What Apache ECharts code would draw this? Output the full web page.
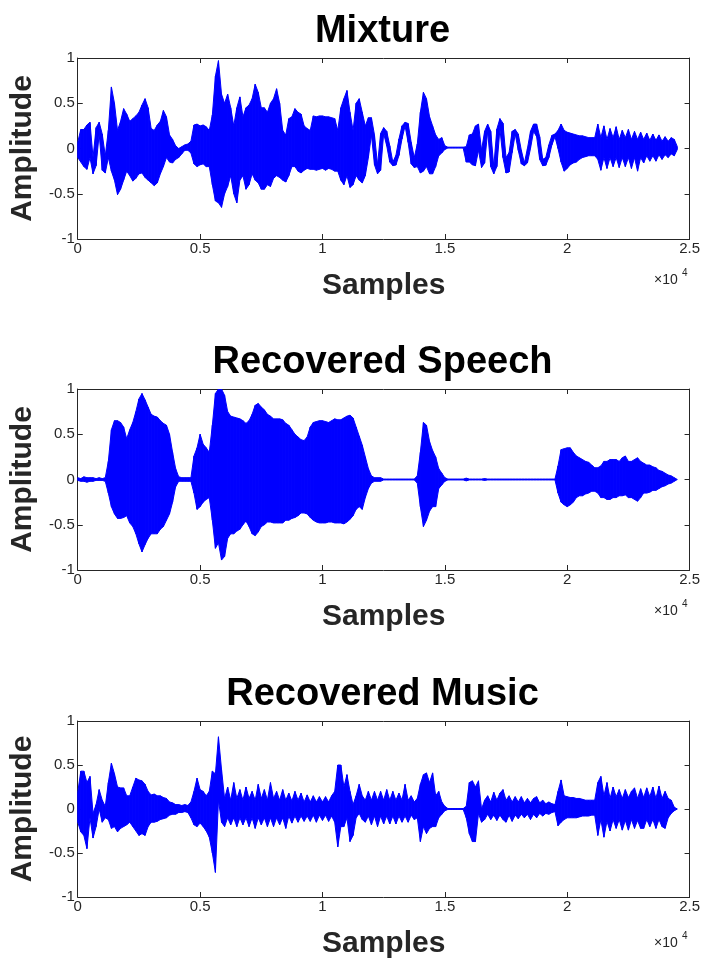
<!DOCTYPE html>
<html>
  <head>
    <meta charset="utf-8" />
    <title>Mixture / Recovered Speech / Recovered Music</title>
    <script src="https://cdn.jsdelivr.net/npm/echarts@6/dist/echarts.min.js"></script>
    <style>
      html, body { margin: 0; padding: 0; background: #fff; }
    </style>
  </head>
  <body>
    <div id="main" style="width: 703px;height:960px;"></div>
    <script type="text/javascript">
      var step = 125;
      var titles = ['Mixture', 'Recovered Speech', 'Recovered Music'];

      var mixHi = [
        0.07, 0.21, 0.21, 0.26, 0.29, -0.1, 0.23, 0.29, 0.16, -0.08,
        0.2, 0.68, 0.5, 0.2, 0.3, 0.44, 0.38, 0.3, 0.33, 0.36,
        0.4, 0.48, 0.55, 0.45, 0.22, 0.2, 0.26, 0.3, 0.42, 0.35,
        0.15, 0.1, 0.03, 0.0, 0.02, 0.04, 0.05, 0.08, 0.26, 0.27,
        0.25, 0.26, 0.24, 0.2, 0.37, 0.8, 0.97, 0.6, 0.5, 0.6,
        0.45, 0.25, 0.45, 0.57, 0.35, 0.45, 0.48, 0.55, 0.71, 0.62,
        0.45, 0.45, 0.4, 0.5, 0.55, 0.66, 0.5, 0.2, 0.15, 0.33,
        0.35, 0.44, 0.4, 0.38, 0.25, 0.22, 0.2, 0.36, 0.35, 0.36,
        0.36, 0.35, 0.35, 0.34, 0.33, 0.2, 0.45, 0.55, 0.64, 0.4,
        0.2, 0.5, 0.55, 0.4, 0.25, 0.34, 0.34, 0.15, -0.18, 0.165,
        0.23, 0.19, 0.03, -0.15, -0.076, 0.106, 0.25, 0.29, 0.276, 0.068,
        -0.1, 0.05, 0.4, 0.62, 0.55, 0.35, 0.25, 0.15, 0.1, 0.12,
        0.03, 0.015, 0.015, 0.015, 0.015, 0.015, 0.015, 0.02, 0.15, 0.16,
        0.25, 0.27, -0.02, 0.19, 0.27, 0.19, -0.2, 0.215, 0.33, 0.28,
        -0.1, -0.045, 0.19, 0.21, 0.16, -0.02, -0.16, 0.0, 0.19, 0.27,
        0.27, 0.13, -0.12, -0.1, 0.04, 0.145, 0.16, 0.2, 0.27, 0.2,
        0.18, 0.17, 0.16, 0.15, 0.14, 0.14, 0.13, 0.12, 0.12, 0.12,
        0.27, 0.12, 0.25, 0.1, 0.22, 0.12, 0.24, 0.1, 0.2, 0.12,
        0.21, 0.1, 0.19, 0.1, 0.18, 0.1, 0.17, 0.09, 0.16, 0.09,
        0.15, 0.08, 0.13, 0.08, 0.12, 0.1, 0.02
      ];
      var mixLo = [
        -0.1, -0.15, -0.2, -0.23, -0.1, -0.28, -0.19, 0.16, -0.24, -0.27,
        -0.1, -0.25, -0.35, -0.51, -0.45, -0.35, -0.25, -0.3, -0.36, -0.33,
        -0.28, -0.27, -0.32, -0.35, -0.38, -0.41, -0.38, -0.28, -0.2, -0.1,
        -0.15, -0.16, -0.12, -0.1, -0.06, -0.02, -0.02, -0.05, -0.17, -0.2,
        -0.18, -0.17, -0.2, -0.2, -0.4, -0.58, -0.6, -0.65, -0.5, -0.42,
        -0.3, -0.5, -0.6, -0.35, -0.3, -0.45, -0.4, -0.28, -0.35, -0.38,
        -0.45, -0.45, -0.4, -0.42, -0.33, -0.3, -0.32, -0.35, -0.37, -0.3,
        -0.2, -0.2, -0.25, -0.27, -0.24, -0.22, -0.23, -0.23, -0.24, -0.23,
        -0.22, -0.24, -0.22, -0.23, -0.25, -0.25, -0.35, -0.4, -0.3, -0.43,
        -0.4, -0.3, -0.35, -0.38, -0.3, -0.1, 0.15, -0.18, -0.28, -0.24,
        0.165, 0.03, -0.15, -0.19, -0.183, -0.076, 0.106, 0.25, 0.068, -0.17,
        -0.21, -0.2, -0.27, -0.25, -0.2, -0.28, -0.28, -0.2, -0.08, -0.05,
        -0.01, 0.005, 0.005, 0.005, 0.005, 0.005, 0.005, -0.15, -0.15, -0.18,
        -0.19, -0.02, -0.21, -0.16, 0.19, -0.2, -0.28, -0.2, 0.215, -0.1,
        -0.27, -0.26, -0.045, 0.16, -0.02, -0.17, -0.19, -0.16, 0.0, 0.19,
        0.13, -0.12, -0.19, -0.185, -0.1, 0.04, 0.13, 0.0, -0.15, -0.25,
        -0.22, -0.18, -0.16, -0.15, -0.12, -0.1, -0.09, -0.08, -0.08, -0.08,
        -0.12, -0.24, -0.1, -0.22, -0.1, -0.2, -0.1, -0.21, -0.1, -0.2,
        -0.1, -0.22, -0.1, -0.25, -0.1, -0.16, -0.08, -0.14, -0.08, -0.14,
        -0.07, -0.12, -0.07, -0.1, -0.06, -0.08, -0.01
      ];

      var speechHi = [
        0.02, 0.01, 0.03, 0.02, 0.02, 0.02, 0.01, 0.02, 0.01, 0.02,
        0.2, 0.55, 0.65, 0.65, 0.63, 0.58, 0.45, 0.55, 0.63, 0.75,
        0.89, 0.95, 0.88, 0.8, 0.72, 0.7, 0.69, 0.65, 0.62, 0.6,
        0.5, 0.3, 0.12, 0.03, 0.02, 0.02, 0.02, 0.02, 0.26, 0.35,
        0.5, 0.39, 0.35, 0.3, 0.6, 0.95, 1.0, 1.0, 0.93, 0.75,
        0.7, 0.69, 0.68, 0.67, 0.65, 0.62, 0.65, 0.72, 0.82, 0.84,
        0.8, 0.77, 0.72, 0.7, 0.67, 0.67, 0.67, 0.66, 0.62, 0.6,
        0.55, 0.5, 0.47, 0.44, 0.43, 0.47, 0.58, 0.63, 0.64, 0.65,
        0.65, 0.64, 0.63, 0.65, 0.67, 0.66, 0.66, 0.68, 0.7, 0.71,
        0.68, 0.58, 0.48, 0.38, 0.25, 0.12, 0.04, 0.02, 0.02, 0.02,
        0.005, 0.005, 0.005, 0.005, 0.005, 0.005, 0.005, 0.005, 0.005, 0.005,
        0.005, 0.04, 0.3, 0.63, 0.6, 0.42, 0.32, 0.25, 0.12, 0.07,
        0.02, 0.005, 0.005, 0.005, 0.005, 0.005, 0.005, 0.015, 0.005, 0.005,
        0.005, 0.005, 0.005, 0.01, 0.005, 0.005, 0.005, 0.005, 0.005, 0.005,
        0.005, 0.005, 0.005, 0.005, 0.005, 0.005, 0.005, 0.005, 0.005, 0.005,
        0.005, 0.005, 0.005, 0.005, 0.005, 0.005, 0.005, 0.15, 0.33, 0.34,
        0.35, 0.35, 0.3, 0.26, 0.24, 0.22, 0.2, 0.19, 0.16, 0.13,
        0.13, 0.15, 0.2, 0.2, 0.22, 0.22, 0.22, 0.2, 0.24, 0.26,
        0.2, 0.2, 0.22, 0.24, 0.2, 0.18, 0.16, 0.16, 0.14, 0.13,
        0.1, 0.09, 0.07, 0.05, 0.04, 0.02, 0.0
      ];
      var speechLo = [
        -0.01, -0.02, -0.02, -0.03, -0.02, -0.02, -0.01, -0.01, -0.01, -0.02,
        -0.15, -0.3, -0.38, -0.43, -0.43, -0.42, -0.4, -0.48, -0.52, -0.6,
        -0.71, -0.8, -0.72, -0.65, -0.6, -0.6, -0.6, -0.55, -0.52, -0.45,
        -0.38, -0.25, -0.08, -0.02, -0.02, -0.02, -0.02, -0.02, -0.15, -0.33,
        -0.3, -0.25, -0.22, -0.2, -0.45, -0.76, -0.7, -0.89, -0.85, -0.65,
        -0.6, -0.6, -0.57, -0.55, -0.5, -0.46, -0.52, -0.6, -0.62, -0.58,
        -0.52, -0.5, -0.47, -0.47, -0.48, -0.48, -0.48, -0.48, -0.45, -0.45,
        -0.43, -0.42, -0.4, -0.37, -0.37, -0.38, -0.42, -0.45, -0.47, -0.48,
        -0.48, -0.48, -0.47, -0.47, -0.48, -0.48, -0.48, -0.49, -0.47, -0.44,
        -0.4, -0.33, -0.3, -0.33, -0.2, -0.1, -0.04, -0.02, -0.02, -0.02,
        -0.005, -0.005, -0.005, -0.005, -0.005, -0.005, -0.005, -0.005, -0.005, -0.005,
        -0.005, -0.04, -0.3, -0.52, -0.45, -0.35, -0.3, -0.3, -0.1, -0.06,
        -0.02, -0.005, -0.005, -0.005, -0.005, -0.005, -0.005, -0.015, -0.005, -0.005,
        -0.005, -0.005, -0.005, -0.01, -0.005, -0.005, -0.005, -0.005, -0.005, -0.005,
        -0.005, -0.005, -0.005, -0.005, -0.005, -0.005, -0.005, -0.005, -0.005, -0.005,
        -0.005, -0.005, -0.005, -0.005, -0.005, -0.005, -0.005, -0.15, -0.25, -0.28,
        -0.3, -0.28, -0.25, -0.2, -0.18, -0.18, -0.16, -0.15, -0.13, -0.13,
        -0.15, -0.2, -0.2, -0.22, -0.22, -0.2, -0.2, -0.18, -0.18, -0.17,
        -0.2, -0.2, -0.22, -0.24, -0.2, -0.15, -0.15, -0.14, -0.12, -0.12,
        -0.1, -0.08, -0.07, -0.05, -0.04, -0.02, 0.0
      ];

      var musicHi = [
        0.19, 0.43, 0.43, 0.3, 0.37, -0.05, 0.05, 0.22, 0.1, 0.03,
        0.3, 0.52, 0.4, 0.25, 0.24, 0.24, 0.15, 0.15, 0.25, 0.35,
        0.33, 0.32, 0.28, 0.2, 0.16, 0.17, 0.15, 0.15, 0.13, 0.12,
        0.08, 0.07, 0.05, 0.05, 0.04, 0.05, 0.04, 0.08, 0.2, 0.35,
        0.22, 0.2, 0.15, 0.2, 0.43, 0.4, 0.82, 0.45, 0.12, 0.25,
        0.1, 0.3, 0.12, 0.22, 0.1, 0.25, 0.12, 0.2, 0.1, 0.28,
        0.12, 0.22, 0.1, 0.3, 0.12, 0.2, 0.1, 0.22, 0.1, 0.18,
        0.09, 0.2, 0.1, 0.18, 0.08, 0.16, 0.08, 0.15, 0.08, 0.14,
        0.08, 0.14, 0.08, 0.15, 0.2, 0.5, 0.5, 0.25, 0.39, 0.2,
        0.05, 0.15, 0.28, 0.15, 0.1, 0.2, 0.1, 0.2, 0.1, 0.2,
        0.1, 0.22, 0.1, 0.2, 0.1, 0.18, 0.1, 0.28, 0.1, 0.15,
        0.08, 0.12, 0.28, 0.39, 0.41, 0.3, 0.41, 0.15, 0.2, 0.08,
        0.03, 0.005, 0.005, 0.005, 0.005, 0.005, 0.005, 0.03, 0.3, 0.32,
        0.25, 0.32, 0.0, 0.1, 0.15, 0.08, 0.19, 0.1, 0.18, 0.22,
        0.1, 0.15, 0.08, 0.14, 0.08, 0.14, 0.07, 0.12, 0.07, 0.12,
        0.14, 0.07, 0.1, 0.06, 0.08, 0.06, 0.05, 0.2, 0.33, 0.15,
        0.14, 0.13, 0.13, 0.12, 0.12, 0.11, 0.1, 0.1, 0.1, 0.1,
        0.3, 0.37, 0.15, 0.3, 0.12, 0.25, 0.14, 0.22, 0.12, 0.22,
        0.13, 0.2, 0.24, 0.12, 0.23, 0.13, 0.24, 0.14, 0.25, 0.12,
        0.26, 0.12, 0.2, 0.12, 0.1, 0.02, 0.0
      ];
      var musicLo = [
        -0.15, -0.26, -0.3, -0.45, -0.1, -0.33, -0.2, 0.0, -0.15, -0.1,
        -0.12, -0.22, -0.2, -0.26, -0.22, -0.2, -0.18, -0.15, -0.2, -0.25,
        -0.3, -0.28, -0.3, -0.2, -0.15, -0.15, -0.14, -0.12, -0.11, -0.1,
        -0.07, -0.06, -0.06, -0.04, -0.04, -0.03, -0.04, -0.1, -0.18, -0.2,
        -0.16, -0.2, -0.25, -0.32, -0.5, -0.72, 0.1, -0.15, -0.2, -0.1,
        -0.18, -0.1, -0.2, -0.1, -0.18, -0.1, -0.2, -0.1, -0.22, -0.1,
        -0.18, -0.1, -0.2, -0.1, -0.2, -0.1, -0.18, -0.1, -0.22, -0.08,
        -0.16, -0.08, -0.15, -0.08, -0.14, -0.08, -0.14, -0.07, -0.15, -0.07,
        -0.13, -0.07, -0.14, -0.08, -0.15, -0.43, -0.2, -0.2, -0.1, -0.37,
        -0.3, -0.1, -0.05, -0.12, -0.15, -0.08, -0.18, -0.08, -0.2, -0.08,
        -0.17, -0.08, -0.17, -0.08, -0.17, -0.08, -0.15, -0.08, -0.15, -0.07,
        -0.12, -0.1, -0.37, -0.2, -0.28, -0.22, -0.2, -0.2, -0.1, -0.06,
        -0.02, -0.005, -0.005, -0.005, -0.005, -0.005, -0.005, -0.1, -0.28, -0.37,
        -0.37, -0.05, -0.15, -0.12, -0.06, -0.12, -0.07, -0.13, -0.07, -0.12,
        -0.15, -0.07, -0.14, -0.07, -0.11, -0.06, -0.1, -0.06, -0.12, -0.06,
        -0.1, -0.05, -0.08, -0.05, -0.06, -0.04, -0.03, -0.19, -0.15, -0.12,
        -0.1, -0.1, -0.1, -0.1, -0.09, -0.08, -0.08, -0.08, -0.07, -0.07,
        -0.3, -0.12, -0.32, -0.14, -0.25, -0.12, -0.22, -0.12, -0.24, -0.13,
        -0.24, -0.12, -0.22, -0.13, -0.22, -0.22, -0.12, -0.2, -0.12, -0.22,
        -0.12, -0.2, -0.22, -0.1, -0.05, -0.02, 0.0
      ];

      var signals = [[mixHi, mixLo], [speechHi, speechLo], [musicHi, musicLo]];
      var gridTops = [58, 389, 721];
      var gridHeight = 181;
      var gridLeft = 75;
      var gridWidth = 615;
      var axisColor = '#262626';
      var waveColor = '#0000ff';
      var font = 'Liberation Sans, Arial, sans-serif';

      var myChart = echarts.init(document.getElementById('main'));

      // one quad per bin: from (x_i, hi_i / lo_i) to (x_i+1, hi_i+1 / lo_i+1)
      function renderBand(params, api) {
        var a = api.coord([api.value(0), api.value(1)]);
        var b = api.coord([api.value(3), api.value(4)]);
        var c = api.coord([api.value(3), api.value(5)]);
        var d = api.coord([api.value(0), api.value(2)]);
        return {
          type: 'polygon',
          shape: { points: [a, b, c, d] },
          style: { fill: waveColor, stroke: waveColor, lineWidth: 1 }
        };
      }

      var grid = [], xAxis = [], yAxis = [], series = [], graphic = [];

      signals.forEach(function (sig, k) {
        var hi = sig[0], lo = sig[1];
        grid.push({ left: gridLeft, top: gridTops[k], width: gridWidth, height: gridHeight });

        var tick = { show: true, inside: true, length: 5, lineStyle: { color: axisColor, width: 1 } };
        var line = { show: true, onZero: false, lineStyle: { color: axisColor, width: 1 } };

        xAxis.push({
          type: 'value', gridIndex: k, position: 'bottom',
          min: 0, max: 25000, interval: 5000,
          axisLine: line, axisTick: tick, splitLine: { show: false },
          axisLabel: {
            color: axisColor, fontSize: 15, fontFamily: font, margin: 2,
            formatter: function (v) { return String(v / 10000); }
          },
          name: 'Samples', nameLocation: 'middle', nameGap: 32,
          nameTextStyle: { color: axisColor, fontSize: 30, fontWeight: 'bold', fontFamily: font }
        });
        xAxis.push({
          type: 'value', gridIndex: k, position: 'top',
          min: 0, max: 25000, interval: 5000,
          axisLine: line, axisTick: tick, splitLine: { show: false },
          axisLabel: { show: false }
        });
        yAxis.push({
          type: 'value', gridIndex: k, position: 'left',
          min: -1, max: 1, interval: 0.5,
          axisLine: line, axisTick: tick, splitLine: { show: false },
          axisLabel: { color: axisColor, fontSize: 15, fontFamily: font, margin: 3 },
          name: 'Amplitude', nameLocation: 'middle', nameGap: 37,
          nameTextStyle: { color: axisColor, fontSize: 30, fontWeight: 'bold', fontFamily: font }
        });
        yAxis.push({
          type: 'value', gridIndex: k, position: 'right',
          min: -1, max: 1, interval: 0.5,
          axisLine: line, axisTick: tick, splitLine: { show: false },
          axisLabel: { show: false }
        });

        var rows = [];
        for (var i = 0; i < hi.length - 1; i++) {
          rows.push([i * step, hi[i], lo[i], (i + 1) * step, hi[i + 1], lo[i + 1]]);
        }
        series.push({
          type: 'custom', xAxisIndex: 2 * k, yAxisIndex: 2 * k,
          data: rows, renderItem: renderBand, clip: true, silent: true,
          encode: { x: [0, 3], y: [1, 2, 4, 5] }
        });

        // subplot title
        graphic.push({
          type: 'text', x: gridLeft + gridWidth / 2, y: gridTops[k] - 26,
          style: {
            text: titles[k], fill: '#000', font: 'bold 38px ' + font,
            textAlign: 'center', textVerticalAlign: 'middle'
          }
        });
        // x10^4 exponent
        graphic.push({
          type: 'text', left: 654, top: gridTops[k] + gridHeight + 34,
          style: { text: '\u00d710', fill: axisColor, font: '14px ' + font }
        });
        graphic.push({
          type: 'text', left: 682, top: gridTops[k] + gridHeight + 29,
          style: { text: '4', fill: axisColor, font: '10px ' + font }
        });
      });

      myChart.setOption({
        animation: false,
        backgroundColor: '#fff',
        grid: grid,
        xAxis: xAxis,
        yAxis: yAxis,
        series: series,
        graphic: graphic
      });
    </script>
  </body>
</html>
